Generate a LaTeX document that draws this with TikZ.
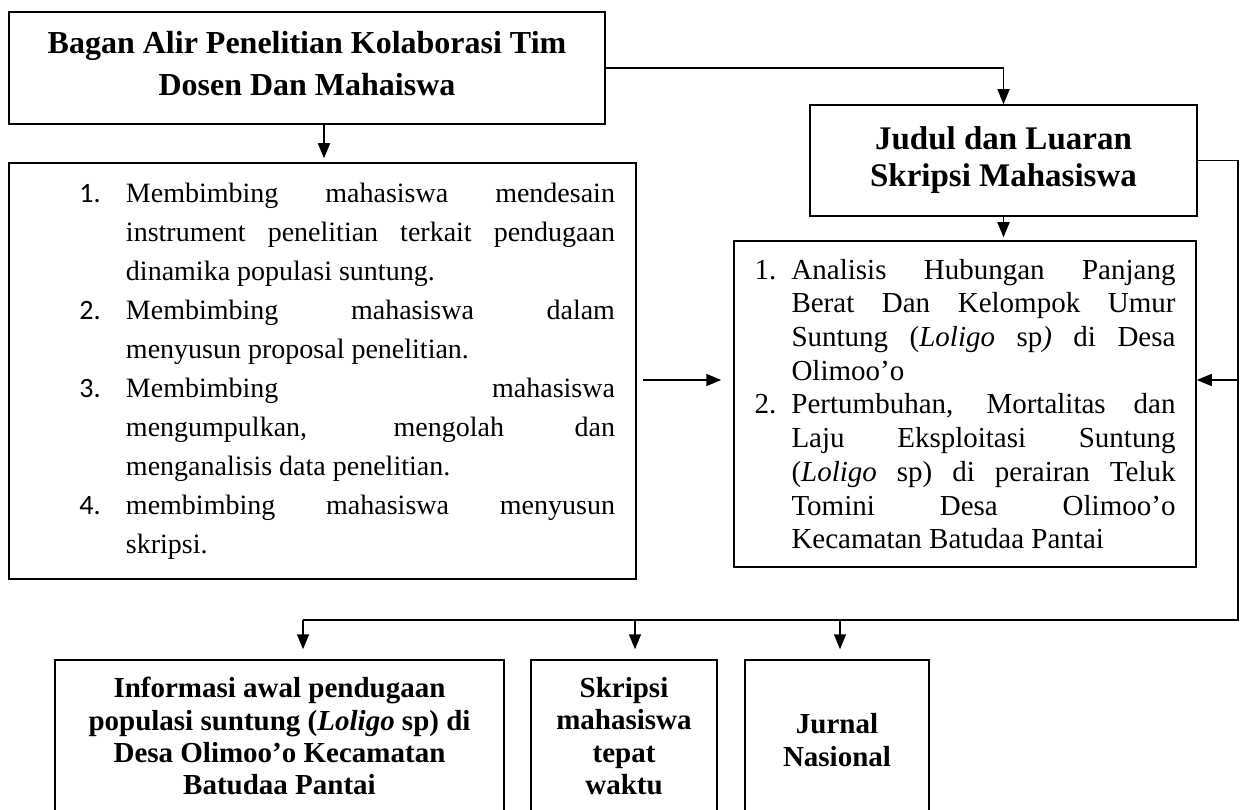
\documentclass[tikz,border=0pt]{standalone}
\usepackage{fontspec}
\setmainfont{Liberation Serif}
\newfontfamily\numfont{Carlito}
\usetikzlibrary{arrows.meta}
\newcommand\LItem[2]{\par\hangindent=46.5pt\hangafter=0\noindent\llap{\makebox[46.5pt][l]{\numfont #1}}#2\par}
\newcommand\RItem[2]{\par\hangindent=37pt\hangafter=0\noindent\llap{\makebox[37pt][l]{#1}}#2\par}
\tikzset{
  box/.style={draw, line width=1.5pt, rectangle, inner sep=0pt, align=center},
  arr/.style={line width=1.5pt, -{Triangle[width=12pt,length=15pt]}},
  conn/.style={line width=1.5pt},
}
\begin{document}
\begin{tikzpicture}[x=1pt,y=-1pt]
\useasboundingbox (0,0) rectangle (1240,810);
\clip (0,0) rectangle (1240,810);

\node[box, minimum width=596pt, minimum height=112pt,
  font={\fontsize{32pt}{42pt}\selectfont\bfseries}] (top) at (307,68)
  {Bagan Alir Penelitian Kolaborasi Tim\\Dosen Dan Mahaiswa\rule[-10pt]{0pt}{10pt}};

\node[box, minimum width=387pt, minimum height=111pt,
  font={\fontsize{33pt}{37pt}\selectfont\bfseries}] (judul) at (1003.5,160.5)
  {Judul dan Luaran\\Skripsi Mahasiswa};

\node[box, minimum width=627pt, minimum height=416pt] (left) at (322.5,371)
  {\hspace*{49.5pt}\parbox{535.5pt}{\fontsize{28pt}{39pt}\selectfont
   \tolerance=10000 \hyphenpenalty=10000 \hbadness=10000
   \LItem{1.}{Membimbing mahasiswa mendesain\linebreak instrument penelitian terkait pendugaan\linebreak dinamika populasi suntung.}
   \LItem{2.}{Membimbing mahasiswa dalam\linebreak menyusun proposal penelitian.}
   \LItem{3.}{Membimbing mahasiswa\linebreak mengumpulkan, mengolah dan\linebreak menganalisis data penelitian.}
   \LItem{4.}{membimbing mahasiswa menyusun\linebreak skripsi.}}};

\node[box, minimum width=462pt, minimum height=326pt] (rlist) at (965,404)
  {\parbox{421pt}{\fontsize{29pt}{33.7pt}\selectfont
   \tolerance=10000 \hyphenpenalty=10000 \hbadness=10000
   \RItem{1.}{Analisis Hubungan Panjang\linebreak Berat Dan Kelompok Umur\linebreak Suntung (\textit{Loligo} sp\textit{)} di Desa\linebreak Olimoo’o}
   \RItem{2.}{Pertumbuhan, Mortalitas dan\linebreak Laju Eksploitasi Suntung\linebreak (\textit{Loligo} sp) di perairan Teluk\linebreak Tomini Desa Olimoo’o\linebreak Kecamatan Batudaa Pantai}}};

\tikzset{bot/.style={box, minimum height=160pt, font={\fontsize{29pt}{32.3pt}\selectfont\bfseries}}}
\node[bot, minimum width=449pt] (b1) at (279.5,740)
  {Informasi awal pendugaan\\populasi suntung (\textit{Loligo} sp) di\\Desa Olimoo’o Kecamatan\\Batudaa Pantai\rule[-8pt]{0pt}{8pt}};
\node[bot, minimum width=186pt] (b2) at (624,740)
  {Skripsi\\mahasiswa\\tepat\\waktu\rule[-8pt]{0pt}{8pt}};
\node[bot, minimum width=184pt] (b3) at (837,740)
  {Jurnal\\Nasional};

\coordinate (ta) at (324,0);
\coordinate (ay) at (0,380);
\coordinate (R) at (1238,620);
\coordinate (B1) at (303,620);
\coordinate (B2) at (635,620);
\coordinate (B3) at (840,620);

\draw[arr, shorten >=4pt] (top.south -| ta) -- (left.north -| ta);
\draw[arr] (top.east) -| (judul.north);
\draw[arr, shorten >=3pt] (judul.south) -- (judul.south |- rlist.north);
\draw[arr, shorten <=6pt, shorten >=12pt] (left.east |- ay) -- (rlist.west |- ay);
\draw[conn] (judul.east) -| (R) -- (B1);
\draw[arr] (R |- ay) -- (rlist.east |- ay);
\draw[arr, shorten >=10pt] (B1) -- (b1.north -| B1);
\draw[arr, shorten >=10pt] (B2) -- (b2.north -| B2);
\draw[arr, shorten >=10pt] (B3) -- (b3.north -| B3);
\end{tikzpicture}
\end{document}
